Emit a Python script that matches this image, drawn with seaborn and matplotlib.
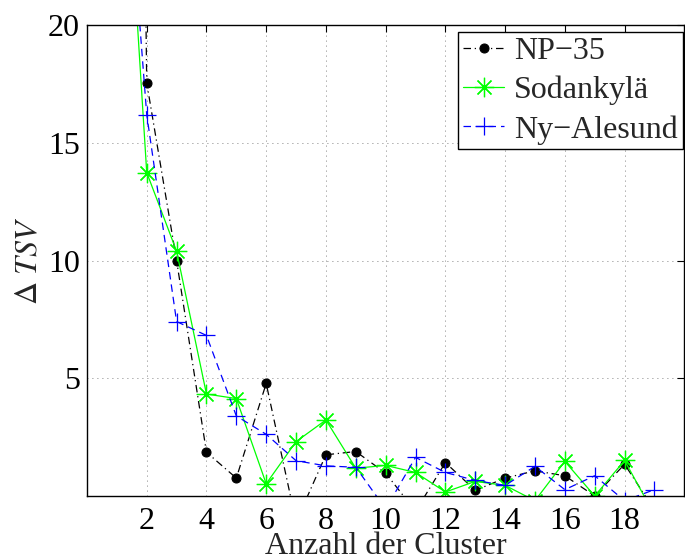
import numpy as np
import pandas as pd
import matplotlib
matplotlib.use("Agg")
import matplotlib.pyplot as plt
import seaborn as sns

clusters = list(range(1, 20))
np35 = [120, 17.55, 10.0, 1.86, 0.76, 4.78, -1.1, 1.75, 1.89, 0.97, -0.65, 1.42, 0.24, 0.76, 1.07, 0.86, 0.0, 1.35, -0.6]
sodankyla = [34, 13.74, 10.4, 4.33, 4.14, 0.52, 2.31, 3.23, 1.18, 1.30, 1.00, 0.17, 0.62, 0.45, -0.2, 1.47, 0.0, 1.51, -0.8]
nyalesund = [32.7, 16.2, 7.41, 6.82, 3.40, 2.62, 1.5, 1.28, 1.22, -0.55, 1.64, 1.0, 0.66, 0.45, 1.26, 0.27, 0.86, -0.2, 0.27]
series_names = ["NP\u221235", "Sodankyl\u00e4", "Ny\u2212Alesund"]
xticks = [2, 4, 6, 8, 10, 12, 14, 16, 18]
yticks = [5, 10, 15, 20]

sns.set_style("white")
plt.rcParams["font.family"] = ["Liberation Serif", "DejaVu Serif"]
plt.rcParams["mathtext.fontset"] = "stix"

fig = plt.figure(figsize=(6.85, 5.59), dpi=100)
ax = fig.add_axes([0.127, 0.1127, 0.872, 0.8423])

df = pd.DataFrame({"x": clusters, "np": np35, "so": sodankyla, "ny": nyalesund})

sns.lineplot(data=df, x="x", y="np", ax=ax, color="black", linestyle=(0, (6, 3, 1, 3)),
             marker="o", markersize=6.5, markeredgecolor="black", lw=0.9,
             label=series_names[0], sort=False)
sns.lineplot(data=df, x="x", y="so", ax=ax, color=(0, 1, 0), linestyle="-",
             marker=(8, 2, 0), markersize=14, markeredgecolor=(0, 1, 0),
             markeredgewidth=0.9, lw=0.9, label=series_names[1], sort=False)
sns.lineplot(data=df, x="x", y="ny", ax=ax, color=(0, 0, 1), linestyle=(0, (6, 4)),
             marker="+", markersize=13, markeredgecolor=(0, 0, 1),
             markeredgewidth=0.9, lw=0.9, label=series_names[2], sort=False)

ax.set_xlim(0, 20)
ax.set_ylim(0, 20)
ax.set_xticks(xticks)
ax.set_yticks(yticks)
ax.tick_params(direction="in", length=5, width=0.8, top=True, right=True,
               labelsize=23, pad=5, colors="black")
ax.tick_params(axis="x", pad=8)
ax.grid(True, linestyle=(0, (1, 5)), color="0.35", linewidth=0.6)
for s in ax.spines.values():
    s.set_visible(True)
    s.set_color("black")
    s.set_linewidth(1.0)

ax.set_xlabel("Anzahl der Cluster", fontsize=23, labelpad=-3)
ax.set_ylabel(r"$\Delta\ \mathit{TSV}$", fontsize=23, labelpad=3)

leg = ax.legend(loc="upper right", bbox_to_anchor=(0.997, 0.985),
                fontsize=23, frameon=True, fancybox=False,
                edgecolor="black", framealpha=1, handlelength=1.3,
                borderpad=0.15, labelspacing=0.3, handletextpad=0.3,
                borderaxespad=0.0)
leg.get_frame().set_linewidth(1.0)

fig.savefig("out.png", dpi=100)
